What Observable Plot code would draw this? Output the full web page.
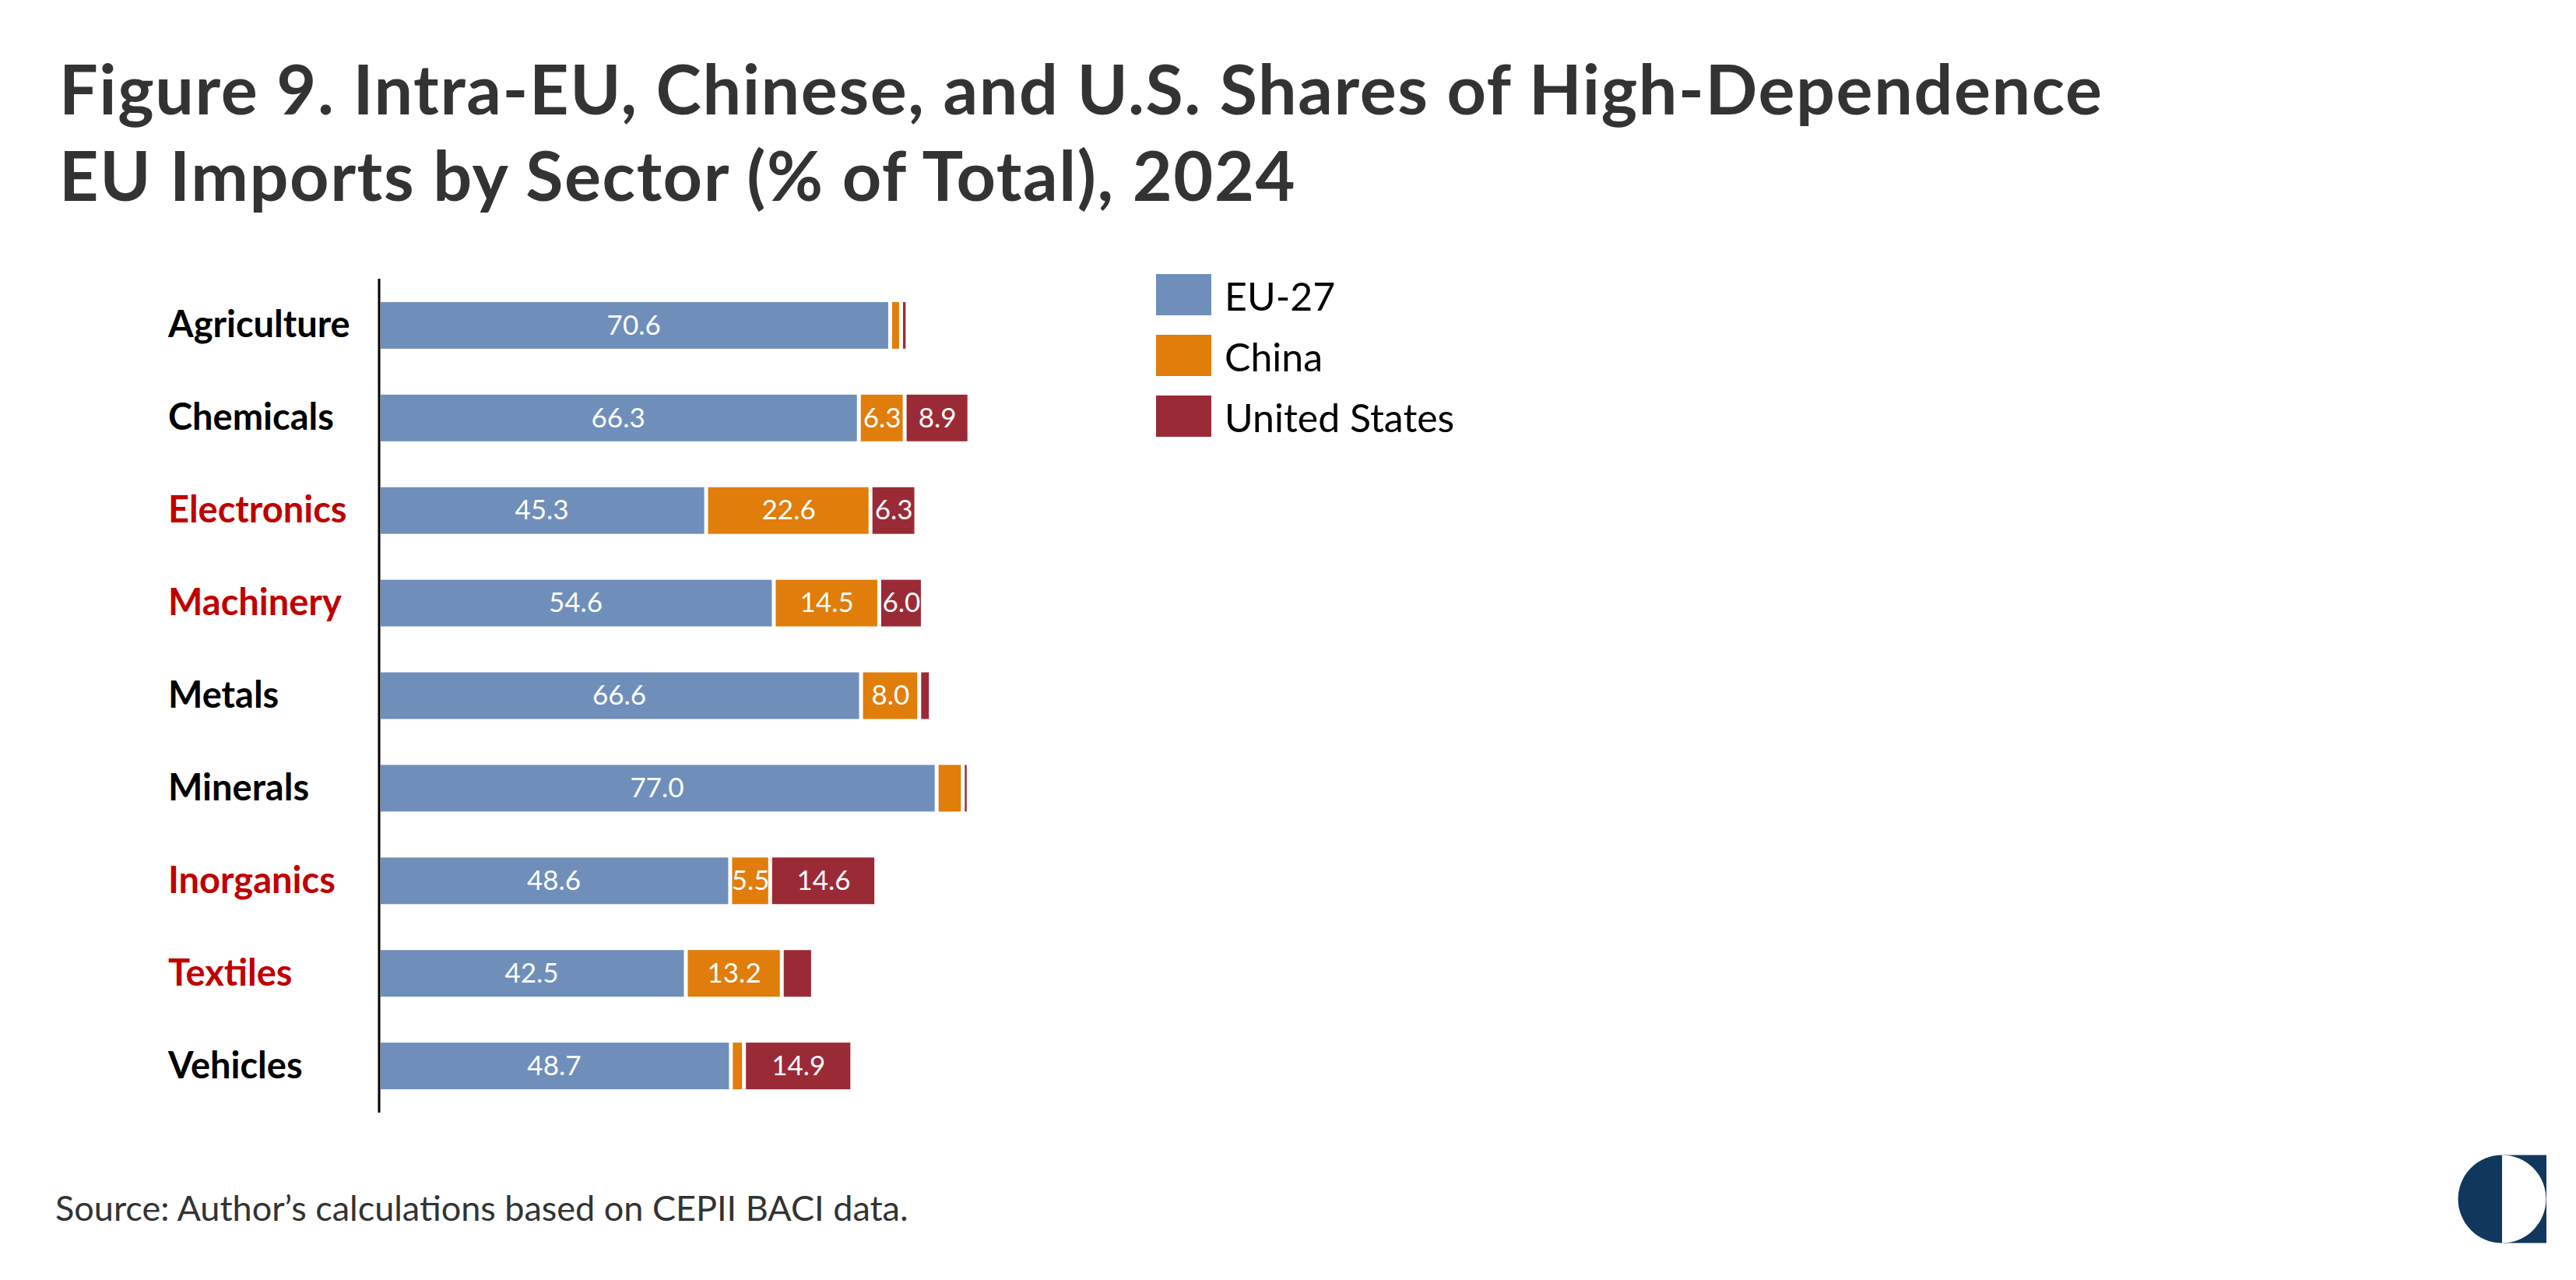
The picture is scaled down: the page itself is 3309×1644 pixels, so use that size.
<!DOCTYPE html>
<html>
<head>
<meta charset="utf-8">
<script src="https://cdn.jsdelivr.net/npm/d3@7"></script>
<script src="https://cdn.jsdelivr.net/npm/@observablehq/plot@0.6"></script>
<style>
  body { margin: 0; background: #fff; }
  #page { position: relative; width: 3309px; height: 1644px; overflow: hidden; font-family: Lato, "Noto Sans", sans-serif; background: #fff; }
  .title { position: absolute; left: 76px; top: 58px; font-weight: 700; font-size: 88px; letter-spacing: 1.6px; line-height: 111px; color: #333; white-space: nowrap; }
  #chart { position: absolute; left: 0; top: 300px; }
  #legend { position: absolute; left: 1485px; top: 339.5px; }
  .row { display: flex; align-items: center; height: 78px; }
  .sw { width: 71px; height: 53px; margin-right: 17px; }
  .lab { font-size: 50px; line-height: 50px; color: #000; white-space: nowrap; position: relative; top: 1px; }
  .source { position: absolute; left: 71px; top: 1529px; font-size: 45px; line-height: 45px; color: #333; white-space: nowrap; }
  #logo { position: absolute; left: 3150px; top: 1475px; }
</style>
</head>
<body>
<div id="page">
  <div class="title">Figure 9. Intra-EU, Chinese, and U.S. Shares of High-Dependence<br>EU Imports by Sector (% of Total), 2024</div>
  <div id="chart"></div>
  <div id="legend"></div>
  <div class="source">Source: Author’s calculations based on CEPII BACI data.</div>
  <svg id="logo" width="130" height="130" viewBox="0 0 130 130">
    <rect x="64" y="8.5" width="57" height="113" fill="#12375c"/>
    <path d="M64,8.5 A56.5,56.5 0 0 1 64,121.5 Z" fill="#fff"/>
    <path d="M64,8.5 A56.5,56.5 0 0 0 64,121.5 Z" fill="#12375c"/>
  </svg>
</div>
<script>
const sectors = ["Agriculture", "Chemicals", "Electronics", "Machinery", "Metals", "Minerals", "Inorganics", "Textiles", "Vehicles"];
const euShare = [70.6, 66.3, 45.3, 54.6, 66.6, 77.0, 48.6, 42.5, 48.7];
const chinaShare = [1.5, 6.3, 22.6, 14.5, 8.0, 3.6, 5.5, 13.2, 1.8];
const usShare = [0.9, 8.9, 6.3, 6.0, 1.6, 0.8, 14.6, 4.3, 14.9];
const sources = ["EU-27", "China", "United States"];
const colors = ["#6f8fba", "#e07d0b", "#9b2a37"];
const highlighted = ["Electronics", "Machinery", "Inorganics", "Textiles"];

const series = [euShare, chinaShare, usShare];
const data = sectors.flatMap((s, i) => sources.map((src, j) => ({sector: s, source: src, value: series[j][i]})));

const stackOpts = {x: "value", y: "sector", z: "source", order: sources};

const chart = Plot.plot({
  width: 1480,
  height: 1160,
  marginTop: 58,
  marginBottom: 31,
  marginLeft: 484,
  marginRight: 62,
  x: {domain: [0, 100], axis: null},
  y: {domain: sectors, axis: null, paddingInner: 0.496, paddingOuter: 0.252, round: false},
  color: {domain: sources, range: colors},
  style: {fontFamily: "Lato, 'Noto Sans', sans-serif", background: "transparent", overflow: "visible"},
  marks: [
    Plot.barX(data, Plot.filter(d => d.source === "EU-27",
      Plot.stackX({...stackOpts, fill: "source", insetLeft: 5, insetRight: 2.5}))),
    Plot.barX(data, Plot.filter(d => d.source !== "EU-27",
      Plot.stackX({...stackOpts, fill: "source", insetLeft: 2.5, insetRight: 2.5}))),
    Plot.text(data, Plot.filter(d => d.value >= 5,
      Plot.stackX({...stackOpts, text: d => d.value.toFixed(1), fill: "white", fontSize: 35}))),
    Plot.ruleX([0], {stroke: "#000", strokeWidth: 3, dx: 2.5}),
    Plot.text(sectors.filter(s => !highlighted.includes(s)), {
      y: d => d, frameAnchor: "left", textAnchor: "start", dx: -268.5,
      fill: "#000", fontWeight: 700, fontSize: 47
    }),
    Plot.text(highlighted, {
      y: d => d, frameAnchor: "left", textAnchor: "start", dx: -268.5,
      fill: "#c00000", fontWeight: 700, fontSize: 47
    })
  ]
});
document.getElementById("chart").appendChild(chart);

const legend = document.getElementById("legend");
sources.forEach((s, i) => {
  const row = document.createElement("div");
  row.className = "row";
  const sw = document.createElement("div");
  sw.className = "sw";
  sw.style.background = colors[i];
  const lab = document.createElement("div");
  lab.className = "lab";
  lab.textContent = s;
  row.appendChild(sw);
  row.appendChild(lab);
  legend.appendChild(row);
});
</script>
</body>
</html>
